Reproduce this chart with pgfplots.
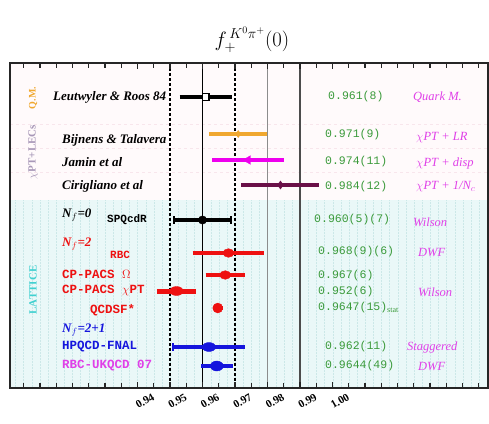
\documentclass[border=0pt]{standalone}
\usepackage{fontspec}
\setmainfont{Liberation Serif}
\setmonofont{Liberation Mono}
\usepackage{pgfplots}
\pgfplotsset{compat=1.18}
\definecolor{qmorange}{HTML}{F0A830}
\definecolor{jmag}{HTML}{EE00EE}
\definecolor{cpurple}{HTML}{6A1048}
\definecolor{lred}{HTML}{EE1111}
\definecolor{lblue}{HTML}{1515DD}
\definecolor{valgreen}{HTML}{3A9A3A}
\definecolor{methmag}{HTML}{E040E8}
\definecolor{chigrey}{HTML}{A898B8}
\definecolor{latcyan}{HTML}{40D0D0}
\definecolor{cyanbg}{HTML}{EAF8F8}
\definecolor{cyangrid}{HTML}{CCE8E8}
\definecolor{pinkbg}{HTML}{FFFAFB}
\definecolor{pinkgrid}{HTML}{F8E6EC}
\newcommand\lab{\fontsize{13}{15}\selectfont\bfseries\itshape}
\newcommand\tlab{\fontsize{12.5}{14}\selectfont\ttfamily\bfseries}
\newcommand\val{\fontsize{11.5}{14}\selectfont\ttfamily\color{valgreen}}
\newcommand\meth{\fontsize{12.5}{14}\selectfont\itshape\color{methmag}}
\begin{document}
\begin{tikzpicture}[x=1pt,y=1pt]
\useasboundingbox (0,0) rectangle (489,423);
\begin{axis}[
  at={(10pt,35pt)}, anchor=south west, scale only axis,
  width=478pt, height=325pt,
  xmin=0.90077, xmax=1.04785, ymin=63, ymax=388, y dir=reverse,
  axis line style={line width=1.6pt, black!85},
  ytick=\empty,
  xtick={0.94,0.95,0.96,0.97,0.98,0.99,1.00},
  minor xtick={0.905,0.91,0.915,0.92,0.925,0.93,0.935,0.945,0.955,0.965,0.975,0.985,0.995,1.005,1.01,1.015,1.02,1.025,1.03,1.035,1.04,1.045},
  tick align=inside, xtick pos=both,
  major tick length=6pt, minor tick length=5pt,
  every tick/.style={line width=1.3pt, black!85},
  tick label style={font=\fontsize{11}{13}\selectfont\bfseries},
  xticklabel style={rotate=30, anchor=center, yshift=-15pt, inner sep=0pt},
  /pgf/number format/.cd, fixed, fixed zerofill, precision=2, assume math mode=true,
  /pgfplots/.cd,
  clip=false, axis on top,
]
% backgrounds
\fill[pinkbg] (axis cs:0.90077,63) rectangle (axis cs:1.04785,200);
\fill[cyanbg] (axis cs:0.90077,200) rectangle (axis cs:1.04785,388);
\pgfplotsinvokeforeach{0.9025,0.905,...,1.046}{\draw[cyangrid, densely dotted, line width=0.5pt] (axis cs:#1,200) -- (axis cs:#1,388);}
\pgfplotsinvokeforeach{124,148,172}{\draw[pinkgrid, dashed, line width=0.5pt] (axis cs:0.90077,#1) -- (axis cs:1.04785,#1);}
% reference lines
\draw[black, densely dashed, line width=1.2pt] (axis cs:0.95,63) -- (axis cs:0.95,388);
\draw[black, line width=0.9pt] (axis cs:0.96,63) -- (axis cs:0.96,388);
\draw[black, densely dashed, line width=1.2pt] (axis cs:0.97,63) -- (axis cs:0.97,388);
\draw[black!45, line width=0.7pt] (axis cs:0.98,63) -- (axis cs:0.98,388);
\draw[black!70, line width=1.8pt] (axis cs:0.99,63) -- (axis cs:0.99,388);
% error bars (value +- error)
\addplot[black, line width=3.6pt] coordinates {(0.953,97) (0.969,97)};
\addplot[qmorange, line width=3.8pt] coordinates {(0.962,134) (0.980,134)};
\addplot[jmag, line width=3.8pt] coordinates {(0.963,160) (0.985,160)};
\addplot[cpurple, line width=3.8pt] coordinates {(0.972,185) (0.996,185)};
\addplot[black, line width=3.6pt] coordinates {(0.9512,220) (0.9688,220)};
\addplot[black, only marks, mark=|, mark size=4pt, mark options={line width=1.6pt}] coordinates {(0.9512,220) (0.9688,220)};
\addplot[lred, line width=4pt] coordinates {(0.957,253) (0.979,253)};
\addplot[lred, line width=4pt] coordinates {(0.961,275) (0.973,275)};
\addplot[lred, line width=5pt] coordinates {(0.946,291) (0.958,291)};
\addplot[lred, line width=4pt] coordinates {(0.9632,308) (0.9662,308)};
\addplot[lblue, line width=4pt] coordinates {(0.951,347) (0.973,347)};
\addplot[lblue, only marks, mark=|, mark size=4pt, mark options={line width=1.6pt}] coordinates {(0.951,347)};
\addplot[lblue, line width=4.5pt] coordinates {(0.9595,366) (0.9693,366)};
% central values
\addplot[black, only marks, mark=square*, mark size=3.4pt, mark options={fill=white, line width=1.4pt}] coordinates {(0.961,97)};
\addplot[qmorange, only marks, mark=diamond*, mark size=3.5pt] coordinates {(0.971,134)};
\addplot[jmag, only marks, mark=triangle*, mark size=5pt, mark options={rotate=90}] coordinates {(0.974,160)};
\addplot[cpurple, only marks, mark=diamond*, mark size=4pt] coordinates {(0.984,185)};
\addplot[black, only marks, mark=*, mark size=4.2pt] coordinates {(0.960,220)};
\addplot[lred, only marks, mark=*, mark size=4.3pt, mark options={xscale=1.3}] coordinates {(0.968,253) (0.967,275)};
\addplot[lred, only marks, mark=*, mark size=4.5pt, mark options={xscale=1.5}] coordinates {(0.952,291)};
\addplot[lred, only marks, mark=*, mark size=5pt] coordinates {(0.9647,308)};
\addplot[lblue, only marks, mark=*, mark size=4.5pt, mark options={xscale=1.5}] coordinates {(0.962,347)};
\addplot[lblue, only marks, mark=*, mark size=5pt, mark options={xscale=1.3}] coordinates {(0.9644,366)};
% left group labels
\node[rotate=90, font=\fontsize{10}{12}\selectfont\bfseries, text=qmorange] at (axis cs:0.90785,98) {Q.M.};
\node[rotate=90, font=\fontsize{11}{13}\selectfont\bfseries, text=chigrey] at (axis cs:0.90785,152) {$\chi$PT+LECs};
\node[rotate=90, font=\fontsize{11}{13}\selectfont\bfseries, text=latcyan] at (axis cs:0.90785,290) {LATTICE};
% row labels
\node[anchor=west, inner sep=0pt] at (axis cs:0.9140,97) {\lab Leutwyler \& Roos 84};
\node[anchor=west, inner sep=0pt] at (axis cs:0.91677,140) {\lab Bijnens \& Talavera};
\node[anchor=west, inner sep=0pt] at (axis cs:0.91677,162) {\lab Jamin et al};
\node[anchor=west, inner sep=0pt] at (axis cs:0.91677,186) {\lab Cirigliano et al};
\node[anchor=west, inner sep=0pt] at (axis cs:0.91677,215) {\fontsize{13}{15}\selectfont\bfseries\itshape N$_f$=0};
\node[anchor=west, inner sep=0pt] at (axis cs:0.93062,220) {\fontsize{11}{13}\selectfont\ttfamily\bfseries SPQcdR};
\node[anchor=west, inner sep=0pt, text=lred] at (axis cs:0.91677,244) {\fontsize{13}{15}\selectfont\bfseries\itshape N$_f$=2};
\node[anchor=west, inner sep=0pt, text=lred] at (axis cs:0.93154,255) {\fontsize{11}{13}\selectfont\ttfamily\bfseries RBC};
\node[anchor=west, inner sep=0pt, text=lred] at (axis cs:0.91677,274) {\tlab CP-PACS $\Omega$};
\node[anchor=west, inner sep=0pt, text=lred] at (axis cs:0.91677,290) {\tlab CP-PACS $\chi$PT};
\node[anchor=west, inner sep=0pt, text=lred] at (axis cs:0.92538,310) {\tlab QCDSF*};
\node[anchor=west, inner sep=0pt, text=lblue] at (axis cs:0.91677,330) {\fontsize{13}{15}\selectfont\bfseries\itshape N$_f$=2+1};
\node[anchor=west, inner sep=0pt, text=lblue] at (axis cs:0.91677,347) {\tlab HPQCD-FNAL};
\node[anchor=west, inner sep=0pt, text=methmag] at (axis cs:0.91677,366) {\tlab RBC-UKQCD 07};
% values
\node[anchor=west, inner sep=0pt] at (axis cs:0.99862,97) {\val 0.961(8)};
\node[anchor=west, inner sep=0pt] at (axis cs:0.99769,135) {\val 0.971(9)};
\node[anchor=west, inner sep=0pt] at (axis cs:0.99769,162) {\val 0.974(11)};
\node[anchor=west, inner sep=0pt] at (axis cs:0.99769,187) {\val 0.984(12)};
\node[anchor=west, inner sep=0pt] at (axis cs:0.99431,220) {\val 0.960(5)(7)};
\node[anchor=west, inner sep=0pt] at (axis cs:0.99554,252) {\val 0.968(9)(6)};
\node[anchor=west, inner sep=0pt] at (axis cs:0.99554,276) {\val 0.967(6)};
\node[anchor=west, inner sep=0pt] at (axis cs:0.99554,292) {\val 0.952(6)};
\node[anchor=west, inner sep=0pt] at (axis cs:0.99554,308) {\val 0.9647(15)$_{\mathrm{stat}}$};
\node[anchor=west, inner sep=0pt] at (axis cs:0.99769,347) {\val 0.962(11)};
\node[anchor=west, inner sep=0pt] at (axis cs:0.99769,366) {\val 0.9644(49)};
% methods
\node[anchor=west, inner sep=0pt] at (axis cs:1.02477,97) {\meth Quark M.};
\node[anchor=west, inner sep=0pt] at (axis cs:1.02569,138) {\meth $\chi$PT + LR};
\node[anchor=west, inner sep=0pt] at (axis cs:1.02569,163) {\meth $\chi$PT + disp};
\node[anchor=west, inner sep=0pt] at (axis cs:1.02569,187) {\meth $\chi$PT + 1/N$_c$};
\node[anchor=west, inner sep=0pt] at (axis cs:1.02477,222) {\meth Wilson};
\node[anchor=west, inner sep=0pt] at (axis cs:1.02631,252) {\meth DWF};
\node[anchor=west, inner sep=0pt] at (axis cs:1.02631,292) {\meth Wilson};
\node[anchor=west, inner sep=0pt] at (axis cs:1.02292,347) {\meth Staggered};
\node[anchor=west, inner sep=0pt] at (axis cs:1.02631,366) {\meth DWF};
% title
\node at (axis cs:0.97523,40) {\fontsize{20}{24}\selectfont$f_+^{\,K^0\pi^+}(0)$};
\end{axis}
\end{tikzpicture}
\end{document}
